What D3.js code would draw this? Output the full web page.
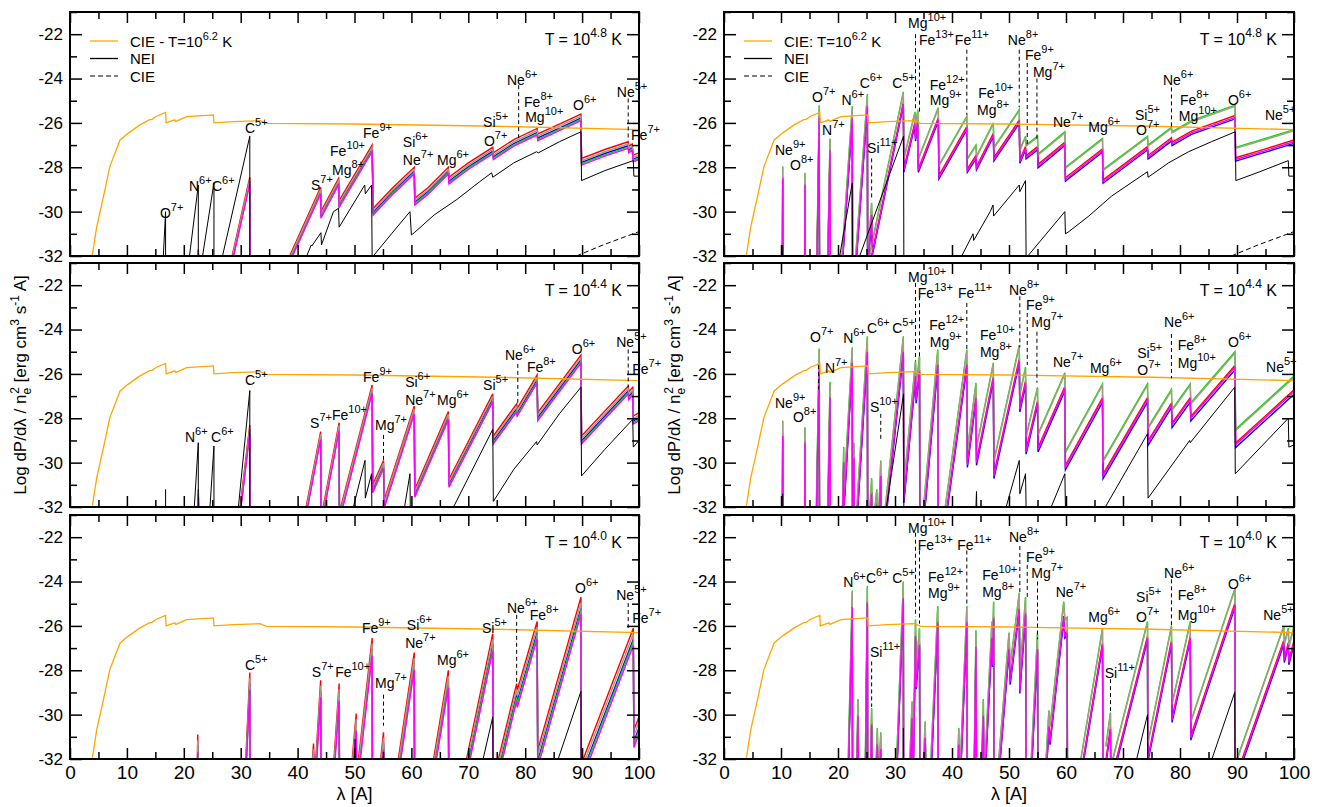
<!DOCTYPE html>
<html>
<head>
<meta charset="utf-8">
<script src="https://cdn.jsdelivr.net/npm/d3@7"></script>
<style>
  body { margin: 0; background: #fff; }
  text { font-family: "Liberation Sans", Arial, Helvetica, sans-serif; fill: #000; }
</style>
</head>
<body>
<svg id="chart" width="1320" height="807"></svg>
<script>
//#region DATA
// CIE spectrum at T = 10^6.2 K (same curve in every panel)
const cieHot = [[3.9,-32],[4.7,-30.68],[5.9,-29.3],[7.0,-27.97],[8.8,-26.77],[10.25,-26.46],[12.3,-26.09],
  [14.0,-25.85],[14.4,-25.84],[15.2,-25.7],[16.8,-25.53],[16.9,-26.0],[18.4,-25.86],[18.6,-25.93],[20.5,-25.72],
  [25.2,-25.64],[25.3,-26.0],[28.7,-25.94],[33.4,-25.9],[34.5,-26.02],[50,-26.05],[75,-26.15],[100,-26.3]];
// CIE at the panel temperature (only above -32 in the top row)
const cieCold = [[89.0,-32],[93.7,-31.5],[100,-30.9]];

// colour series (drawing order) and their offsets (dex) from the panel envelope
const seriesColors = ["#ff0000", "#0000ff", "#00e000", "#a89a84", "#ff00ff"];
const offsL48 = [0, -0.18, -0.24, -0.1, -0.3];
const offsL44 = [0, -0.22, -0.3, -0.12, -0.36];
const offsL40 = [0, -0.5, -0.62, -0.25, -0.78];
const offsR48 = [-0.47, -0.62, 0, -0.05, -0.55];
const offsR44 = [-0.62, -0.82, 0, -0.06, -0.7];
const offsR40 = [-0.66, -0.85, 0, -0.05, -0.75];

// ---- left column, T = 10^4.8
const clusterL48 = [
  [[22.4,-32],[22.55,-31.7],[22.6,-32]],
  [[28.5,-32],[31.6,-28.45],[31.65,-32]],
  [[38.6,-32],[44.05,-28.9],[44.1,-30.0],[47.2,-28.5],[47.3,-29.5],[53.1,-27.0],[53.3,-29.85],[56.8,-28.9],
   [60.5,-28.0],[60.6,-29.4],[63,-28.9],[66.5,-28.0],[66.6,-28.45],[70,-27.8],[74.3,-27.1],[74.4,-27.35],
   [78,-26.75],[82.1,-26.25],[82.2,-26.5],[86,-26.05],[89.8,-25.6],[89.9,-27.6],[94,-27.2],[98.1,-26.85],
   [98.2,-27.05],[98.8,-26.95],[99.0,-27.45],[100,-27.35]]
];
const neiL48 = [
  [[16.4,-32],[16.8,-30.0],[16.8,-32]],
  [[21.0,-32],[22.55,-28.8],[22.55,-32]],
  [[23.3,-32],[25.3,-28.7],[25.3,-32]],
  [[26.8,-32],[31.6,-26.6],[31.6,-32]],
  [[41.6,-32],[42.4,-31.5],[42.5,-31.55],[44.1,-30.95],[44.2,-31.5],[46.3,-30.0],[47.2,-29.85],[47.3,-30.7],
   [51.8,-28.8],[51.9,-29.2],[53.0,-28.8],[53.1,-32]],
  [[53.3,-32],[56.5,-31.0],[59.75,-30.0],[60.0,-31.05],[60.5,-30.95],[64,-30.15],[68,-29.45],[72,-28.65],
   [74.1,-28.25],[74.3,-28.45],[78,-27.8],[82.0,-27.3],[82.3,-27.35],[86,-26.85],[89.8,-26.4],[89.9,-28.6],
   [94,-28.15],[99.0,-27.7],[99.1,-28.4],[100,-28.4]]
];
const marksL48 = [[78.85,-24.3,-26.8],[98.1,-24.9,-26.8]];
const labelsL48 = [[15.8,-30.29,"O","7+"],[20.9,-29.07,"N","6+"],[24.95,-29.07,"C","6+"],[30.75,-26.45,"C","5+"],
  [42.35,-29.02,"S","7+"],[45.7,-27.5,"Fe","10+"],[46.05,-28.35,"Mg","8+"],[51.5,-26.68,"Fe","9+"],
  [58.5,-27.1,"Si","6+"],[58.5,-27.9,"Ne","7+"],[64.5,-27.9,"Mg","6+"],[72.6,-26.2,"Si","5+"],
  [72.75,-27.04,"O","7+"],[76.8,-24.29,"Ne","6+"],[79.8,-25.3,"Fe","8+"],[80.0,-25.95,"Mg","10+"],
  [88.4,-25.42,"O","6+"],[96.1,-24.83,"Ne","5+"],[98.6,-26.77,"Fe","7+"]];

// ---- left column, T = 10^4.4
const clusterL44 = [
  [[22.45,-32],[22.55,-31.2],[22.6,-32]],
  [[29.9,-32],[31.6,-28.3],[31.65,-32]],
  [[41.5,-32],[44.05,-28.6],[44.1,-32]],
  [[44.5,-32],[47.3,-28.2],[47.35,-32]],
  [[47.6,-32],[53.1,-26.5],[53.2,-31.0],[55.1,-29.9],[55.2,-31.7],[60.5,-27.45],[60.6,-31.2],[66.5,-27.7],
   [66.6,-30.75],[74.3,-26.9],[74.4,-28.8],[78.5,-27.35],[78.6,-27.55],[82.1,-26.05],[82.2,-27.75],
   [89.8,-25.15],[89.9,-28.8],[98.1,-26.55],[98.2,-26.8],[98.9,-26.6],[99.0,-27.9],[100,-27.75]]
];
const neiL44 = [
  [[16.8,-32],[16.8,-31.2]],
  [[21.85,-32],[22.55,-29.1],[22.55,-32]],
  [[24.6,-32],[25.3,-29.25],[25.3,-32]],
  [[29.6,-32],[31.6,-26.75],[31.6,-32]],
  [[49.8,-32],[51.85,-29.9],[51.9,-31.6],[53.0,-30.5],[53.05,-32]],
  [[58.8,-32],[59.75,-30.5],[59.8,-32]],
  [[67.4,-32],[74.3,-28.5],[74.4,-31.75],[78,-30.3],[82.0,-29.05],[82.1,-29.2],[86,-27.8],[89.8,-26.6],
   [89.9,-30.6],[94,-29.4],[98.9,-28.05],[99.0,-29.3],[100,-29.0]]
];
const marksL44 = [[55.1,-28.75,-29.96],[78.7,-25.55,-27.3],[98.1,-24.9,-26.58]];
const labelsL44 = [[20.2,-29.06,"N","6+"],[24.8,-29.06,"C","6+"],[30.75,-26.5,"C","5+"],[42.2,-28.44,"S","7+"],
  [46.05,-28.08,"Fe","10+"],[51.5,-26.35,"Fe","9+"],[53.6,-28.53,"Mg","7+"],[58.9,-26.6,"Si","6+"],
  [58.9,-27.4,"Ne","7+"],[64.5,-27.4,"Mg","6+"],[72.6,-26.72,"Si","5+"],[76.45,-25.37,"Ne","6+"],
  [80.3,-25.9,"Fe","8+"],[88.2,-25.1,"O","6+"],[96.0,-24.77,"Ne","5+"],[98.8,-26.0,"Fe","7+"]];

// ---- left column, T = 10^4.0
const clusterL40 = [
  [[22.4,-32],[22.45,-30.9],[22.5,-32]],
  [[30.9,-32],[31.6,-28.1],[31.65,-32]],
  [[42.6,-32],[42.8,-31.3],[42.9,-32]],
  [[43.2,-32],[44.05,-28.45],[44.1,-32]],
  [[46.4,-32],[47.3,-28.6],[47.35,-32]],
  [[49.6,-32],[50.3,-29.95],[50.35,-32]],
  [[50.7,-32],[53.1,-26.55],[53.15,-32]],
  [[54.6,-32],[55.1,-30.8],[55.15,-32]],
  [[57.7,-32],[60.5,-27.2],[60.55,-32]],
  [[63.9,-32],[66.5,-28.0],[66.55,-32]],
  [[69.7,-32],[74.3,-26.35],[74.35,-32]],
  [[75.3,-32],[78.5,-28.6],[78.6,-28.9],[82.1,-25.8],[82.2,-31.6],[89.8,-24.7],[89.85,-32]],
  [[90.2,-32],[99.0,-26.1],[99.1,-30.7],[100,-30.1]]
];
const neiL40 = [
  [[50.1,-32],[50.1,-31.1]],
  [[72.6,-32],[74.3,-30.1],[74.35,-32]],
  [[85.8,-32],[89.8,-28.95],[89.85,-32]]
];
const marksL40 = [[55.1,-29.1,-30.5],[78.5,-25.5,-28.6],[98.1,-24.97,-26.1]];
const labelsL40 = [[30.75,-27.99,"C","5+"],[42.5,-28.29,"S","7+"],[46.6,-28.29,"Fe","10+"],[53.6,-28.8,"Mg","7+"],
  [51.3,-26.32,"Fe","9+"],[59.2,-26.2,"Si","6+"],[58.9,-27.0,"Ne","7+"],[64.5,-27.76,"Mg","6+"],
  [72.4,-26.32,"Si","5+"],[76.8,-25.42,"Ne","6+"],[80.8,-25.73,"Fe","8+"],[88.75,-24.52,"O","6+"],
  [96.0,-24.83,"Ne","5+"],[98.8,-25.87,"Fe","7+"]];

// ---- right column, T = 10^4.8
const clusterR48 = [
  [[10.25,-32],[10.3,-27.95],[10.35,-32]],
  [[14.15,-32],[14.2,-28.25],[14.25,-32]],
  [[16.3,-32],[16.7,-25.2],[16.75,-32]],
  [[18.2,-32],[18.6,-26.7],[18.65,-32]],
  [[20.7,-32],[22.5,-25.25],[22.55,-32]],
  [[23.1,-32],[25.15,-24.7],[25.2,-32]],
  [[25.4,-31.4],[25.9,-29.6],[26.0,-31.0]],
  [[25.5,-32],[31.46,-24.6],[31.55,-27.6],[33.5,-25.5],[33.6,-26.2],[34.0,-25.4],[34.1,-27.6],[37.6,-25.3],
   [37.7,-27.9],[42.6,-25.7],[42.7,-27.6],[44.2,-27.0],[44.3,-27.5],[47.25,-26.0],[47.35,-27.1],[51.8,-25.4],
   [51.9,-27.2],[52.9,-26.6],[53.0,-27.0],[55.0,-26.6],[55.1,-27.4],[59.8,-26.4],[59.9,-28.0],[66.4,-26.7],
   [66.5,-28.1],[74.3,-26.6],[74.4,-27.0],[78.5,-26.2],[78.6,-26.4],[82.0,-25.9],[89.65,-25.2],[89.75,-27.1],
   [95,-26.7],[100,-26.3]]
];
const neiR48 = [
  [[10.3,-32],[10.3,-31.5]],
  [[20.3,-32],[22.5,-28.7],[22.55,-32]],
  [[23.8,-32],[31.5,-26.6],[31.55,-32]],
  [[41.7,-32],[43.7,-31.0],[43.8,-31.3],[46.7,-30.0],[47.2,-29.7],[47.3,-30.2],[51.8,-28.8],[51.9,-29.1],
   [52.9,-28.6],[53.0,-32]],
  [[53.3,-32],[59.8,-30.0],[59.9,-31.0],[60.5,-30.9],[64,-30.2],[68,-29.3],[74.3,-28.2],[74.4,-28.45],
   [78,-27.8],[81.5,-27.3],[85.5,-26.85],[89.7,-26.4],[89.8,-28.6],[94,-28.2],[99.0,-27.7],[99.1,-28.4],[100,-28.4]]
];
const marksR48 = [[33.6,-22.0,-25.4],[34.3,-23.1,-25.5],[42.6,-22.7,-25.64],[25.9,-27.6,-29.5],
  [51.8,-22.7,-25.3],[53.2,-23.3,-27.0],[54.9,-24.0,-26.8],[78.5,-24.4,-26.2]];
const labelsR48 = [[8.95,-27.45,"Ne","9+"],[11.6,-28.12,"O","8+"],[15.45,-25.04,"O","7+"],[17.2,-26.54,"N","7+"],
  [20.6,-25.19,"N","6+"],[23.8,-24.43,"C","6+"],[25.1,-27.36,"Si","11+"],[29.5,-24.43,"C","5+"],
  [32.3,-21.72,"Mg","10+"],[34.2,-22.49,"Fe","13+"],[40.5,-22.49,"Fe","11+"],[36.1,-24.52,"Fe","12+"],
  [36.1,-25.19,"Mg","9+"],[44.6,-24.88,"Fe","10+"],[44.4,-25.64,"Mg","8+"],[49.8,-22.49,"Ne","8+"],
  [52.8,-23.16,"Fe","9+"],[54.2,-23.93,"Mg","7+"],[57.7,-26.18,"Ne","7+"],[63.9,-26.41,"Mg","6+"],
  [72.1,-25.87,"Si","5+"],[72.3,-26.54,"O","7+"],[77.0,-24.29,"Ne","6+"],[80.0,-25.19,"Fe","8+"],
  [79.8,-25.91,"Mg","10+"],[88.4,-25.19,"O","6+"],[94.9,-25.87,"Ne","5+"]];

// ---- right column, T = 10^4.4
const clusterR44 = [
  [[10.25,-32],[10.3,-28.1],[10.35,-32]],
  [[14.15,-32],[14.2,-28.4],[14.25,-32]],
  [[16.2,-32],[16.7,-24.85],[16.75,-32]],
  [[18.2,-32],[18.6,-26.35],[18.65,-32]],
  [[20.8,-32],[21.0,-29.3],[21.05,-32]],
  [[20.9,-32],[22.5,-24.8],[22.55,-32]],
  [[22.6,-32],[22.8,-29.1],[22.85,-32]],
  [[23.3,-32],[25.15,-24.3],[25.2,-32]],
  [[25.6,-32],[25.9,-30.7],[26.0,-32]],
  [[26.5,-32],[26.8,-31.2],[26.9,-32]],
  [[27.2,-32],[27.5,-29.9],[27.6,-32]],
  [[28.3,-32],[31.46,-24.3],[31.55,-31.0],[33.6,-25.4],[33.7,-26.5],[34.3,-25.2],[34.35,-32]],
  [[35.0,-32],[37.5,-24.9],[37.6,-32]],
  [[38.8,-32],[42.6,-24.9],[42.7,-29.4],[44.2,-26.4],[44.3,-29.3],[47.25,-25.5],[47.35,-29.9],[51.8,-24.7],
   [51.9,-26.9],[52.9,-25.7],[53.0,-28.8],[55.0,-26.6],[55.1,-28.7],[59.8,-25.95],[59.9,-29.5],[66.4,-26.45],
   [66.5,-29.9],[74.3,-26.45],[74.4,-28.4],[78.5,-26.7],[78.6,-27.6],[81.8,-26.45],[81.9,-27.3],[89.65,-25.0],
   [89.75,-28.5],[100,-26.1]]
];
const neiR44 = [
  [[10.3,-32],[10.3,-31.4]],
  [[28.5,-32],[31.5,-26.9],[31.55,-32]],
  [[44.2,-32],[44.3,-31.3],[44.35,-32]],
  [[49.5,-32],[51.8,-29.9],[51.9,-31.4],[52.9,-30.5],[53.0,-32]],
  [[57.4,-32],[59.8,-30.5],[59.9,-32]],
  [[66.9,-32],[74.3,-28.7],[74.4,-31.6],[81.7,-29.0],[81.8,-29.1],[89.6,-26.6],[89.7,-30.5],[99.0,-28.0],
   [99.1,-29.3],[100,-29.2]]
];
const marksR44 = [[33.6,-21.9,-25.4],[34.3,-22.5,-25.2],[42.6,-22.8,-24.9],[27.5,-27.8,-29.0],[16.6,-25.6,-26.7],
  [51.9,-22.5,-24.8],[53.2,-23.25,-25.6],[54.9,-24.1,-26.4],[78.5,-24.2,-26.2]];
const labelsR44 = [[8.95,-27.54,"Ne","9+"],[12.1,-28.17,"O","8+"],[15.1,-24.56,"O","7+"],[17.7,-25.96,"N","7+"],
  [20.9,-24.61,"N","6+"],[25.1,-24.16,"C","6+"],[29.5,-24.16,"C","5+"],[25.6,-27.72,"S","10+"],
  [32.3,-21.86,"Mg","10+"],[34.0,-22.58,"Fe","13+"],[41.05,-22.58,"Fe","11+"],[36.0,-24.02,"Fe","12+"],
  [36.1,-24.79,"Mg","9+"],[44.9,-24.47,"Fe","10+"],[44.9,-25.24,"Mg","8+"],[50.0,-22.44,"Ne","8+"],
  [53.0,-23.12,"Fe","9+"],[53.9,-23.88,"Mg","7+"],[57.7,-25.69,"Ne","7+"],[64.2,-25.96,"Mg","6+"],
  [72.5,-25.28,"Si","5+"],[72.5,-26.05,"O","7+"],[77.2,-23.88,"Ne","6+"],[79.6,-24.92,"Fe","8+"],
  [79.6,-25.74,"Mg","10+"],[88.4,-24.79,"O","6+"],[95.1,-25.91,"Ne","5+"]];

// ---- right column, T = 10^4.0
const clusterR40 = [
  [[21.8,-32],[22.5,-24.4],[22.55,-32]],
  [[23.3,-32],[23.5,-29.3],[23.6,-32]],
  [[24.8,-32],[25.15,-24.2],[25.2,-32]],
  [[25.7,-32],[25.9,-29.7],[26.0,-32]],
  [[26.7,-32],[26.9,-30.6],[27.0,-32]],
  [[27.3,-32],[27.5,-30.8],[27.6,-32]],
  [[30.3,-32],[31.46,-24.0],[31.5,-32]],
  [[32.6,-32],[33.0,-29.4],[33.1,-32]],
  [[33.2,-32],[33.6,-25.7],[33.7,-28.0],[34.3,-26.1],[34.35,-32]],
  [[35.0,-32],[35.3,-30.3],[35.4,-32]],
  [[36.3,-32],[37.5,-25.1],[37.6,-32]],
  [[41.0,-32],[41.2,-30.6],[41.3,-32]],
  [[41.5,-32],[42.6,-25.1],[42.65,-32]],
  [[43.9,-32],[44.2,-26.2],[44.3,-32]],
  [[45.2,-32],[45.5,-29.3],[45.6,-32]],
  [[45.8,-32],[47.0,-25.8],[47.1,-27.0],[47.3,-24.9],[47.35,-32]],
  [[48.2,-32],[50.0,-26.3],[50.2,-27.8],[51.8,-24.5],[51.9,-28.2],[52.9,-24.7],[53.0,-32]],
  [[53.9,-32],[55.0,-26.3],[55.05,-32]],
  [[56.5,-32],[57.0,-29.8],[57.2,-30.5],[59.6,-24.9],[59.8,-25.7],[60.2,-25.6],[60.25,-32]],
  [[62.6,-32],[66.4,-26.1],[66.5,-32]],
  [[67.0,-31.4],[67.8,-29.9],[67.85,-32]],
  [[68.2,-32],[74.3,-25.8],[74.35,-31.3],[78.5,-26.0],[78.6,-29.5],[81.8,-25.8],[81.9,-30.3],[89.65,-24.3],[89.7,-32]],
  [[90.0,-32],[98.2,-26.0],[98.3,-26.8],[99.0,-26.1],[99.1,-26.9],[100,-26.0]]
];
const neiR40 = [
  [[31.46,-32],[31.46,-30.6]],
  [[72.4,-32],[74.3,-30.0],[74.35,-32]],
  [[85.6,-32],[89.6,-29.0],[89.65,-32]]
];
const marksR40 = [[33.6,-21.8,-25.6],[34.3,-22.6,-25.9],[42.6,-22.6,-25.1],[25.9,-27.6,-29.65],[51.9,-22.4,-24.5],
  [53.2,-23.25,-24.7],[55.0,-24.0,-26.6],[78.5,-23.9,-26.05],[67.8,-28.4,-29.9]];
const labelsR40 = [[20.9,-24.25,"N","6+"],[24.9,-24.07,"C","6+"],[29.5,-24.07,"C","5+"],[25.6,-27.4,"Si","11+"],
  [32.3,-21.81,"Mg","10+"],[34.0,-22.58,"Fe","13+"],[40.9,-22.58,"Fe","11+"],[35.8,-24.02,"Fe","12+"],
  [35.8,-24.74,"Mg","9+"],[45.3,-23.93,"Fe","10+"],[45.3,-24.7,"Mg","8+"],[50.0,-22.22,"Ne","8+"],
  [53.0,-23.12,"Fe","9+"],[53.9,-23.84,"Mg","7+"],[58.2,-24.7,"Ne","7+"],[63.9,-25.82,"Mg","6+"],
  [66.8,-28.35,"Si","11+"],[72.3,-24.92,"Si","5+"],[72.3,-25.82,"O","7+"],[77.2,-23.84,"Ne","6+"],
  [79.6,-24.83,"Fe","8+"],[79.6,-25.73,"Mg","10+"],[88.4,-24.34,"O","6+"],[94.6,-25.73,"Ne","5+"]];

const tempLabels = ["4.8", "4.4", "4.0"];
const xMajor = d3.range(0, 101, 10);
const xMinor = d3.range(5, 100, 10);
const yMajor = [-32, -30, -28, -26, -24, -22];
const yMinor = [-31, -29, -27, -25, -23, -21];
//#endregion

// CHART CODE
const svg = d3.select("#chart");

const cols = [{x0: 70, x1: 639}, {x0: 724, x1: 1294}];
const rows = [{top: 12, bottom: 256}, {top: 263, bottom: 507}, {top: 515, bottom: 759}];

const panels = [
  {col: 0, row: 0, cluster: clusterL48, nei: neiL48, cold: cieCold, marks: marksL48, labels: labelsL48, offs: offsL48, legend: "CIE - T=10"},
  {col: 0, row: 1, cluster: clusterL44, nei: neiL44, cold: null, marks: marksL44, labels: labelsL44, offs: offsL44},
  {col: 0, row: 2, cluster: clusterL40, nei: neiL40, cold: null, marks: marksL40, labels: labelsL40, offs: offsL40},
  {col: 1, row: 0, cluster: clusterR48, nei: neiR48, cold: cieCold, marks: marksR48, labels: labelsR48, offs: offsR48, legend: "CIE: T=10"},
  {col: 1, row: 1, cluster: clusterR44, nei: neiR44, cold: null, marks: marksR44, labels: labelsR44, offs: offsR44},
  {col: 1, row: 2, cluster: clusterR40, nei: neiR40, cold: null, marks: marksR40, labels: labelsR40, offs: offsR40}
];

// text with a superscript, anchored at (x, y)
function supText(g, x, y, base, sup, size, supSize, anchor) {
  const t = g.append("text")
    .attr("x", x).attr("y", y)
    .attr("font-size", size)
    .attr("text-anchor", anchor || "start");
  t.append("tspan").text(base);
  t.append("tspan").attr("font-size", supSize).attr("dy", -size * 0.5).text(sup);
  return t;
}

panels.forEach((p, i) => {
  const c = cols[p.col], r = rows[p.row];
  const x = d3.scaleLinear().domain([0, 100]).range([c.x0, c.x1]);
  const y = d3.scaleLinear().domain([-32, -21]).range([r.bottom, r.top]);

  const g = svg.append("g");
  const clipId = "clip" + i;
  svg.append("clipPath").attr("id", clipId)
    .append("rect")
    .attr("x", c.x0).attr("y", r.top)
    .attr("width", c.x1 - c.x0).attr("height", r.bottom - r.top);

  const plot = g.append("g").attr("clip-path", `url(#${clipId})`);

  // coloured model spectra
  p.offs.forEach((off, k) => {
    const line = d3.line().x(d => x(d[0])).y(d => y(d[1] + off));
    plot.selectAll(null)
      .data(p.cluster)
      .enter()
      .append("path")
      .attr("d", line)
      .attr("fill", "none")
      .attr("stroke", seriesColors[k])
      .attr("stroke-width", 1.4);
  });

  const line0 = d3.line().x(d => x(d[0])).y(d => y(d[1]));

  // NEI
  plot.selectAll(null)
    .data(p.nei)
    .enter()
    .append("path")
    .attr("d", line0)
    .attr("fill", "none")
    .attr("stroke", "#000")
    .attr("stroke-width", 1);

  // CIE at panel temperature
  if (p.cold) {
    plot.append("path")
      .attr("d", line0(p.cold))
      .attr("fill", "none")
      .attr("stroke", "#000")
      .attr("stroke-dasharray", "5,3")
      .attr("stroke-width", 1);
  }

  // CIE hot
  plot.append("path")
    .attr("d", line0(cieHot))
    .attr("fill", "none")
    .attr("stroke", "#ffa500")
    .attr("stroke-width", 1.3);

  // dashed edge markers
  plot.selectAll(null)
    .data(p.marks)
    .enter()
    .append("line")
    .attr("x1", d => x(d[0])).attr("x2", d => x(d[0]))
    .attr("y1", d => y(d[1])).attr("y2", d => y(d[2]))
    .attr("stroke", "#000")
    .attr("stroke-width", 1)
    .attr("stroke-dasharray", "4,3");

  // ion labels
  p.labels.forEach(l => supText(g, x(l[0]), y(l[1]), l[2], l[3], 14, 11));

  // axes (ticks inward on all sides)
  const addAxis = (axis, transform, fs) => {
    const a = g.append("g").attr("transform", transform).call(axis);
    a.select(".domain").remove();
    a.selectAll("text").attr("font-size", fs || 17).attr("font-family", "Liberation Sans, Arial, sans-serif");
    a.selectAll("line").attr("stroke-width", 1.5);
    return a;
  };
  const bottomLabels = p.row === 2;
  addAxis(d3.axisBottom(x).tickValues(xMajor).tickSizeInner(-11).tickSizeOuter(0).tickPadding(7)
    .tickFormat(bottomLabels ? d => d : ""), `translate(0,${r.bottom})`, 19);
  addAxis(d3.axisBottom(x).tickValues(xMinor).tickSizeInner(-7).tickSizeOuter(0).tickFormat(""), `translate(0,${r.bottom})`);
  addAxis(d3.axisTop(x).tickValues(xMajor).tickSizeInner(-11).tickSizeOuter(0).tickFormat(""), `translate(0,${r.top})`);
  addAxis(d3.axisTop(x).tickValues(xMinor).tickSizeInner(-7).tickSizeOuter(0).tickFormat(""), `translate(0,${r.top})`);
  addAxis(d3.axisLeft(y).tickValues(yMajor).tickSizeInner(-12).tickSizeOuter(0).tickPadding(7)
    .tickFormat(d => String(d)), `translate(${c.x0},0)`);
  addAxis(d3.axisLeft(y).tickValues(yMinor).tickSizeInner(-7).tickSizeOuter(0).tickFormat(""), `translate(${c.x0},0)`);
  addAxis(d3.axisRight(y).tickValues(yMajor).tickSizeInner(-12).tickSizeOuter(0).tickFormat(""), `translate(${c.x1},0)`);
  addAxis(d3.axisRight(y).tickValues(yMinor).tickSizeInner(-7).tickSizeOuter(0).tickFormat(""), `translate(${c.x1},0)`);

  // frame
  g.append("rect")
    .attr("x", c.x0).attr("y", r.top)
    .attr("width", c.x1 - c.x0).attr("height", r.bottom - r.top)
    .attr("fill", "none")
    .attr("stroke", "#000")
    .attr("stroke-width", 2);

  // temperature label
  const tl = g.append("text")
    .attr("x", c.x1 - 17).attr("y", r.top + 33)
    .attr("font-size", 16)
    .attr("text-anchor", "end");
  tl.append("tspan").text("T = 10");
  tl.append("tspan").attr("font-size", 12).attr("dy", -8).text(tempLabels[p.row]);
  tl.append("tspan").attr("dy", 8).text(" K");

  // legend
  if (p.legend) {
    const lx = c.x0 + 20, ly = r.top + 29;
    const items = [
      {stroke: "#ffa500", dash: null},
      {stroke: "#000", dash: null},
      {stroke: "#555", dash: "5,3"}
    ];
    items.forEach((it, k) => {
      g.append("line")
        .attr("x1", lx).attr("x2", lx + 28)
        .attr("y1", ly + k * 17.5).attr("y2", ly + k * 17.5)
        .attr("stroke", it.stroke)
        .attr("stroke-width", 1.3)
        .attr("stroke-dasharray", it.dash);
    });
    const t0 = g.append("text").attr("x", lx + 40).attr("y", ly + 5.5).attr("font-size", 15);
    t0.append("tspan").text(p.legend);
    t0.append("tspan").attr("font-size", 11).attr("dy", -7).text("6.2");
    t0.append("tspan").attr("dy", 7).text(" K");
    g.append("text").attr("x", lx + 40).attr("y", ly + 17.5 + 5.5).attr("font-size", 15).text("NEI");
    g.append("text").attr("x", lx + 40).attr("y", ly + 35 + 5.5).attr("font-size", 15).text("CIE");
  }

  // x-axis title
  if (p.row === 2) {
    g.append("text")
      .attr("x", (c.x0 + c.x1) / 2).attr("y", 800)
      .attr("font-size", 18)
      .attr("text-anchor", "middle")
      .text("λ [A]");
  }

  // y-axis title
  if (p.row === 1) {
    const cx = c.x0 - 44, cy = (r.top + r.bottom) / 2;
    const yt = g.append("text")
      .attr("transform", `translate(${cx},${cy}) rotate(-90)`)
      .attr("font-size", 17)
      .attr("text-anchor", "middle");
    yt.append("tspan").text("Log dP/dλ / n");
    yt.append("tspan").attr("font-size", 12).attr("dy", 5).text("e");
    yt.append("tspan").attr("font-size", 12).attr("dx", -6).attr("dy", -12).text("2");
    yt.append("tspan").attr("dy", 7).text(" [erg cm");
    yt.append("tspan").attr("font-size", 12).attr("dy", -7).text("3");
    yt.append("tspan").attr("dy", 7).text(" s");
    yt.append("tspan").attr("font-size", 12).attr("dy", -7).text("-1");
    yt.append("tspan").attr("dy", 7).text(" A]");
  }
});
</script>
</body>
</html>
